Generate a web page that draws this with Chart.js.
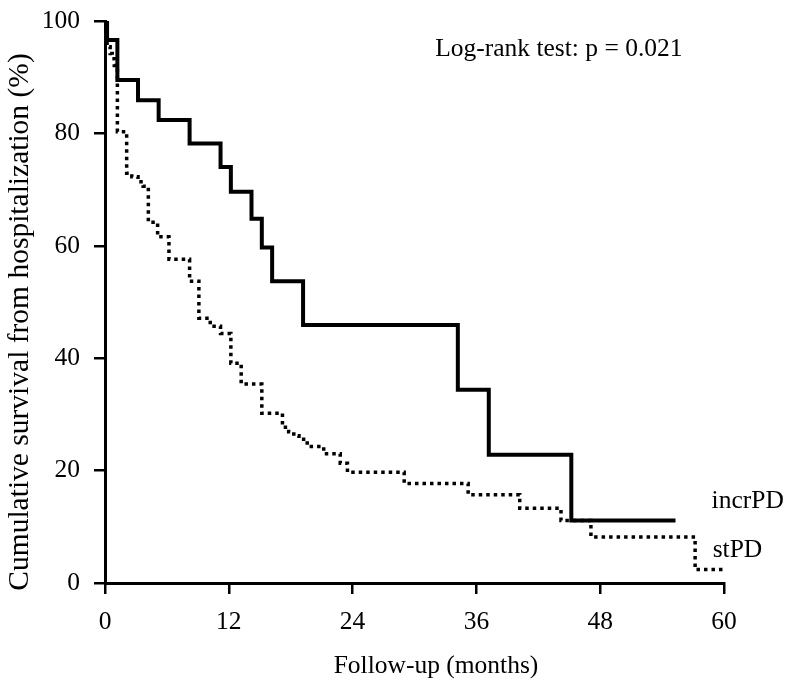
<!doctype html>
<html>
<head>
  <title>Survival from hospitalization</title>
  <script src="https://cdn.jsdelivr.net/npm/chart.js@4.4.0/dist/chart.umd.min.js"></script>
  <style>
    html, body { margin: 0; padding: 0; background: #fff; }
    canvas { display: block; }
  </style>
</head>
<body>
  <canvas id="myChart" width="786" height="685"></canvas>
  <script>
    // Kaplan-Meier steps: month of each drop and survival (%) after it
    var incrTime = [0, 0.2, 1.2, 3.2, 5.2, 8.2, 11.2, 12.2, 14.2, 15.2, 16.2, 19.2, 34.2, 37.2, 45.2, 55.3];
    var incrSurv = [100, 96.6, 89.5, 85.9, 82.4, 78.2, 74.0, 69.6, 64.8, 59.7, 53.7, 45.9, 34.4, 22.8, 11.1, 11.1];

    var stTime = [0, 0.2, 0.5, 0.7, 0.9, 1.2, 2.1, 2.6, 3.2, 3.7, 4.2, 5.1, 6.2, 8.2, 9.1, 10.2, 11.2, 12.2, 13.2, 15.2,
                  17.2, 17.8, 18.3, 18.8, 19.6, 21.2, 22.8, 23.5, 29.0, 35.2, 40.2, 44.2, 47.1, 57.2, 59.9];
    var stSurv = [100, 95.4, 94.2, 93.3, 92.1, 80.3, 72.9, 72.3, 71.4, 70.6, 64.2, 61.6, 57.6, 53.7, 47.1, 45.7, 44.4, 39.1, 35.4, 30.2,
                  27.7, 26.9, 26.2, 25.6, 24.3, 23.0, 21.3, 19.7, 17.7, 15.7, 13.3, 11.1, 8.2, 2.4, 2.4];

    var xTicks = [0, 12, 24, 36, 48, 60];
    var yTicks = [0, 20, 40, 60, 80, 100];

    // text placed in data coordinates (left edge, baseline)
    var notes = [
      { text: 'Log-rank test: p = 0.021', x: 32.0, y: 93.7 },
      { text: 'incrPD', x: 58.8, y: 13.4 },
      { text: 'stPD', x: 58.9, y: 4.7 }
    ];
    var xTitle = 'Follow-up (months)';
    var yTitle = 'Cumulative survival from hospitalization (%)';

    var FONT = "'Liberation Serif', 'Times New Roman', serif";
    var FSIZE = 25.5;

    function toPoints(t, s) {
      return t.map(function(v, i) { return { x: v, y: s[i] }; });
    }

    var textPlugin = {
      id: 'textPlugin',
      afterDraw: function(chart) {
        var ctx = chart.ctx;
        var xs = chart.scales.x, ys = chart.scales.y;
        ctx.save();
        ctx.fillStyle = '#000';
        ctx.font = FSIZE + 'px ' + FONT;
        ctx.textAlign = 'left';
        ctx.textBaseline = 'alphabetic';
        notes.forEach(function(n) {
          ctx.fillText(n.text, xs.getPixelForValue(n.x), ys.getPixelForValue(n.y));
        });

        ctx.textAlign = 'center';
        ctx.fillText(xTitle, chart.chartArea.left + 331, 673);

        // y title is set a bit larger in the original
        ctx.font = '29.5px ' + FONT;
        ctx.translate(20, 322);
        ctx.rotate(-Math.PI / 2);
        ctx.textBaseline = 'middle';
        ctx.fillText(yTitle, 0, 0);
        ctx.restore();
      }
    };

    var axisGrid = { drawOnChartArea: false, color: '#000', lineWidth: 2.5, tickLength: 11 };
    var axisBorder = { color: '#000', width: 3 };
    var tickFont = { family: FONT, size: FSIZE };

    var config = {
      type: 'line',
      data: {
        datasets: [{
          label: 'incrPD',
          data: toPoints(incrTime, incrSurv),
          stepped: 'before',
          borderColor: '#000',
          borderWidth: 4,
          pointRadius: 0,
          fill: false
        }, {
          label: 'stPD',
          data: toPoints(stTime, stSurv),
          stepped: 'before',
          borderColor: '#000',
          borderWidth: 3.5,
          borderDash: [3.5, 4],
          pointRadius: 0,
          fill: false
        }]
      },
      options: {
        responsive: false,
        animation: false,
        layout: { padding: { top: 21, right: 62, left: 0, bottom: 0 } },
        plugins: {
          legend: { display: false },
          tooltip: { enabled: false }
        },
        scales: {
          x: {
            type: 'linear',
            min: 0,
            max: 60,
            afterBuildTicks: function(scale) {
              scale.ticks = xTicks.map(function(v) { return { value: v }; });
            },
            grid: axisGrid,
            border: axisBorder,
            ticks: { color: '#000', font: tickFont, padding: 13, maxRotation: 0 },
            afterFit: function(scale) {
              scale.height = 102;
              scale.paddingLeft = 0;
              scale.paddingRight = 0;
            }
          },
          y: {
            type: 'linear',
            min: 0,
            max: 100,
            afterBuildTicks: function(scale) {
              scale.ticks = yTicks.map(function(v) { return { value: v }; });
            },
            grid: axisGrid,
            border: axisBorder,
            ticks: { color: '#000', font: tickFont, padding: 14 },
            afterFit: function(scale) {
              scale.width = 105;
              scale.paddingTop = 0;
              scale.paddingBottom = 0;
            }
          }
        }
      },
      plugins: [textPlugin]
    };

    var ctx = document.getElementById('myChart').getContext('2d');
    window.myChart = new Chart(ctx, config);
  </script>
</body>
</html>
